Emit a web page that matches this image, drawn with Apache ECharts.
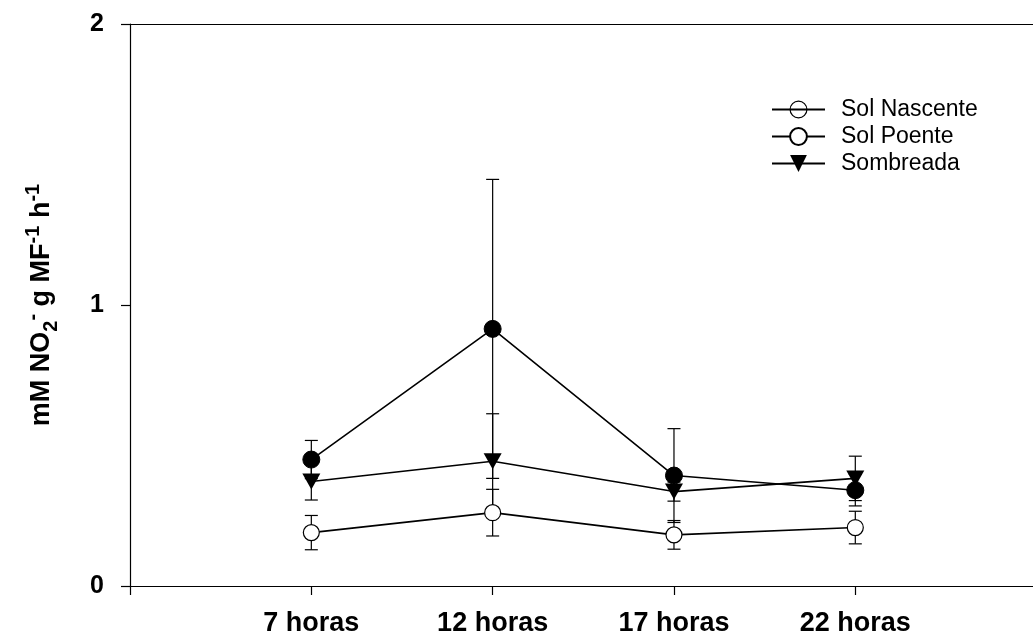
<!DOCTYPE html>
<html>
<head>
<meta charset="utf-8">
<script src="https://cdn.jsdelivr.net/npm/echarts@6/dist/echarts.min.js"></script>
<style>
html,body{margin:0;padding:0;background:#fff;}
#chart{width:1033px;height:637px;}
</style>
</head>
<body>
<div id="chart"></div>
<script>
// Categories (placed at x positions 1..4 on the axis)
var categories = ['7 horas', '12 horas', '17 horas', '22 horas'];
var yTicks = [0, 1, 2];

// Series means
var solNascente = [0.45, 0.915, 0.393, 0.341];
var solPoente   = [0.19, 0.261, 0.182, 0.208];
var sombreada   = [0.372, 0.444, 0.336, 0.383];

// Error (± standard error)
var solNascenteErr = [0.068, 0.532, 0.167, 0.056];
var solPoenteErr   = [0.061, 0.083, 0.051, 0.058];
var sombreadaErr   = [0.066, 0.169, 0.034, 0.079];

var FONT = '"Liberation Sans", Arial, sans-serif';

function pts(vals) { return vals.map(function (v, i) { return [i + 1, v]; }); }
function errPts(vals, errs) { return vals.map(function (v, i) { return [i + 1, v, errs[i]]; }); }

function errorSeries(name, vals, errs) {
  return {
    type: 'custom',
    name: name,
    z: 1,
    silent: true,
    data: errPts(vals, errs),
    renderItem: function (params, api) {
      var x = api.value(0), y = api.value(1), e = api.value(2);
      var t = api.coord([x, y + e]);
      var b = api.coord([x, y - e]);
      var w = 6.5;
      var st = { stroke: '#000', lineWidth: 1.2 };
      return {
        type: 'group',
        children: [
          { type: 'line', shape: { x1: t[0], y1: t[1], x2: b[0], y2: b[1] }, style: st },
          { type: 'line', shape: { x1: t[0] - w, y1: t[1], x2: t[0] + w, y2: t[1] }, style: st },
          { type: 'line', shape: { x1: b[0] - w, y1: b[1], x2: b[0] + w, y2: b[1] }, style: st }
        ]
      };
    }
  };
}

var triPath = 'path://M0,0L20,0L10,17Z';

var chart = echarts.init(document.getElementById('chart'));
chart.setOption({
  backgroundColor: '#fff',
  animation: false,
  grid: { left: 130, top: 24, bottom: 49, right: 0, containLabel: false },
  legend: {
    orient: 'vertical',
    left: 766,
    top: 93,
    itemWidth: 53,
    itemHeight: 21,
    itemGap: 4,
    textStyle: { fontFamily: FONT, fontSize: 23, color: '#000', padding: [0, 0, 0, 11] },
    data: [
      { name: 'Sol Nascente', itemStyle: { color: 'rgba(0,0,0,0)', borderColor: '#000', borderWidth: 1.2 } },
      { name: 'Sol Poente' },
      { name: 'Sombreada' }
    ]
  },
  xAxis: [{
    type: 'value',
    min: 0, max: 4.98, interval: 1,
    position: 'bottom',
    splitLine: { show: false },
    axisLine: { lineStyle: { color: '#000', width: 1.2 } },
    axisTick: { show: true, length: 9, lineStyle: { color: '#000', width: 1.2 } },
    axisLabel: {
      margin: 24,
      fontFamily: FONT, fontSize: 27, fontWeight: 'bold', color: '#000',
      showMaxLabel: false,
      formatter: function (v) { return (v >= 1 && v <= categories.length) ? categories[v - 1] : ''; }
    }
  }, {
    type: 'value',
    min: 0, max: 4.98,
    position: 'top',
    splitLine: { show: false },
    axisLine: { show: true, lineStyle: { color: '#000', width: 1.2 } },
    axisTick: { show: false },
    axisLabel: { show: false }
  }],
  yAxis: {
    type: 'value',
    min: yTicks[0], max: yTicks[yTicks.length - 1], interval: 1,
    splitLine: { show: false },
    axisLine: { show: true, lineStyle: { color: '#000', width: 1.2 } },
    axisTick: { show: true, length: 9, lineStyle: { color: '#000', width: 1.2 } },
    axisLabel: { margin: 26, fontFamily: FONT, fontSize: 25, fontWeight: 'bold', color: '#000' },
    name: '{a|mM NO}{sub|2}{sup|-}{a| g MF}{sup|-1}{a| h}{sup|-1}',
    nameLocation: 'middle',
    nameRotate: 90,
    nameGap: 69,
    nameTextStyle: {
      fontFamily: FONT, fontWeight: 'bold', color: '#000',
      rich: {
        a: { fontFamily: FONT, fontSize: 27, fontWeight: 'bold', color: '#000', lineHeight: 38, verticalAlign: 'middle' },
        sub: { fontFamily: FONT, fontSize: 20, fontWeight: 'bold', color: '#000', lineHeight: 17, verticalAlign: 'bottom' },
        sup: { fontFamily: FONT, fontSize: 20, fontWeight: 'bold', color: '#000', lineHeight: 17, verticalAlign: 'top' }
      }
    }
  },
  series: [
    errorSeries('errNascente', solNascente, solNascenteErr),
    errorSeries('errPoente', solPoente, solPoenteErr),
    errorSeries('errSombreada', sombreada, sombreadaErr),
    {
      name: 'Sol Nascente', type: 'line', z: 3,
      data: pts(solNascente),
      symbol: 'circle', symbolSize: 17,
      lineStyle: { color: '#000', width: 1.6 },
      itemStyle: { color: '#000', borderColor: '#000', borderWidth: 1 }
    },
    {
      name: 'Sol Poente', type: 'line', z: 3,
      data: pts(solPoente),
      symbol: 'circle', symbolSize: 16,
      lineStyle: { color: '#000', width: 1.6 },
      itemStyle: { color: '#fff', borderColor: '#000', borderWidth: 1.2 }
    },
    {
      name: 'Sombreada', type: 'line', z: 3,
      data: pts(sombreada),
      symbol: triPath, symbolSize: [18, 16],
      lineStyle: { color: '#000', width: 1.6 },
      itemStyle: { color: '#000' }
    }
  ]
});
</script>
</body>
</html>
